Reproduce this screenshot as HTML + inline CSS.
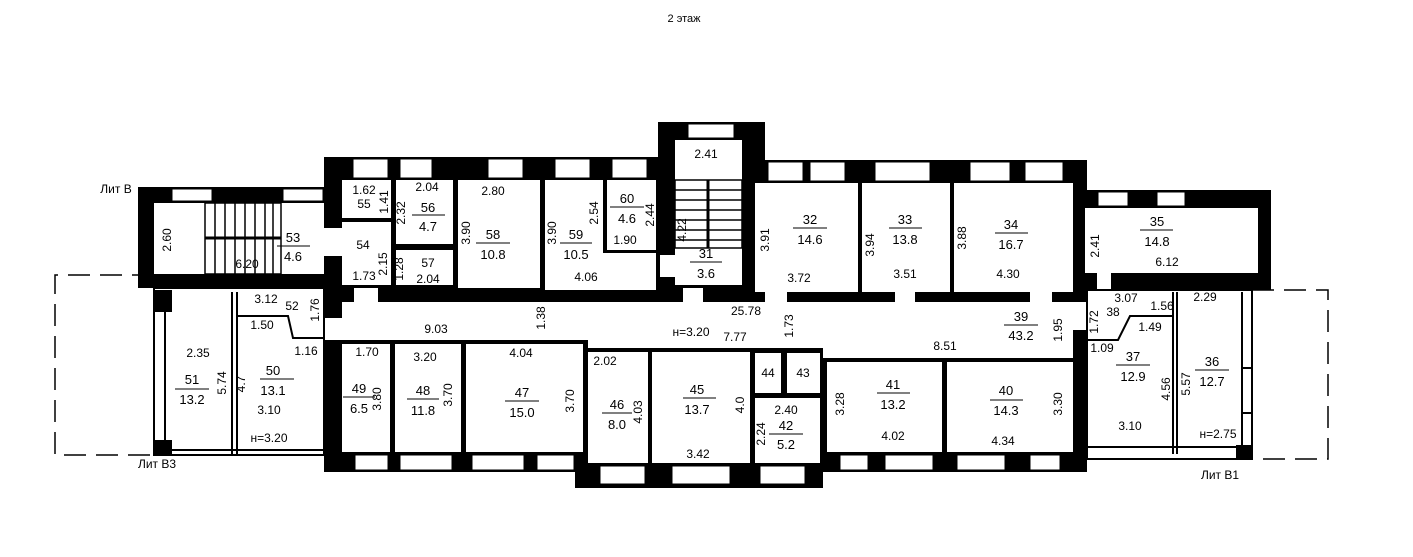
<!DOCTYPE html>
<html><head><meta charset="utf-8"><style>
html,body{margin:0;padding:0;background:#fff;}
svg{display:block}
text{font-family:"Liberation Sans",sans-serif;font-size:13px;fill:#000;text-anchor:middle}
.s{font-size:12px}
</style></head><body>
<svg width="1413" height="557" viewBox="0 0 1413 557" xmlns="http://www.w3.org/2000/svg">
<text x="684" y="22" class="s" style="font-size:11px">2 этаж</text>
<g stroke="#000" stroke-width="1.5" fill="none" stroke-dasharray="22,10">
<polyline points="154,275 55,275 55,455 154,455"/>
<polyline points="1252,290 1328,290 1328,459 1252,459"/>
</g>
<g fill="#000">
<polygon points="324,157 658,157 658,122 765,122 765,160 1087,160 1087,472 823,472 823,488 575,488 575,472 324,472"/>
<rect x="138" y="187" width="188" height="101"/>
<rect x="1073" y="190" width="198" height="100"/>
</g>
<g fill="#fff">
<rect x="154" y="203" width="170" height="71"/>
<rect x="342" y="180" width="49" height="38"/>
<rect x="342" y="222" width="49" height="63"/>
<rect x="396" y="180" width="57" height="64"/>
<rect x="396" y="250" width="57" height="35"/>
<rect x="458" y="180" width="82" height="108"/>
<rect x="545" y="180" width="111" height="110"/>
<rect x="675" y="140" width="67" height="145"/>
<rect x="755" y="183" width="103" height="109"/>
<rect x="862" y="183" width="88" height="109"/>
<rect x="954" y="183" width="119" height="109"/>
<rect x="342" y="302" width="731" height="38"/>
<rect x="588" y="338" width="235" height="10"/>
<rect x="823" y="338" width="250" height="20"/>
<rect x="342" y="344" width="48" height="108"/>
<rect x="395" y="344" width="66" height="108"/>
<rect x="466" y="344" width="117" height="108"/>
<rect x="588" y="352" width="60" height="111"/>
<rect x="652" y="352" width="98" height="111"/>
<rect x="755" y="353" width="26" height="40"/>
<rect x="787" y="353" width="33" height="40"/>
<rect x="755" y="398" width="65" height="65"/>
<rect x="827" y="362" width="115" height="90"/>
<rect x="947" y="362" width="126" height="90"/>
<rect x="1085" y="208" width="173" height="65"/>
<rect x="324" y="228" width="18" height="28"/>
<rect x="324" y="318" width="18" height="22"/>
<rect x="1073" y="302" width="14" height="28"/>
<rect x="354" y="288" width="24" height="14"/>
<rect x="683" y="288" width="20" height="14"/>
<rect x="765" y="292" width="22" height="10"/>
<rect x="895" y="292" width="20" height="10"/>
<rect x="1030" y="292" width="22" height="10"/>
<rect x="1097" y="273" width="14" height="17"/>
<rect x="660" y="255" width="15" height="22"/>
</g>
<rect x="603" y="180" width="4" height="72" fill="#000"/>
<rect x="603" y="250" width="53" height="3" fill="#000"/>
<g stroke="#000" stroke-width="1.5" fill="none">
<rect x="205" y="203" width="76" height="71"/>
<line x1="205" y1="238" x2="281" y2="238" stroke-width="3"/>
<line x1="215" y1="203" x2="215" y2="274"/><line x1="225" y1="203" x2="225" y2="274"/><line x1="235" y1="203" x2="235" y2="274"/><line x1="245" y1="203" x2="245" y2="274"/><line x1="255" y1="203" x2="255" y2="274"/><line x1="265" y1="203" x2="265" y2="274"/><line x1="273" y1="203" x2="273" y2="274"/>
<rect x="675" y="180" width="67" height="68"/>
<line x1="708" y1="180" x2="708" y2="248" stroke-width="3"/>
<line x1="675" y1="190" x2="742" y2="190"/><line x1="675" y1="200" x2="742" y2="200"/><line x1="675" y1="210" x2="742" y2="210"/><line x1="675" y1="220" x2="742" y2="220"/><line x1="675" y1="230" x2="742" y2="230"/><line x1="675" y1="240" x2="742" y2="240"/>
</g>
<g fill="#fff" stroke="#000" stroke-width="1">
<rect x="172" y="189" width="40" height="12"/><rect x="283" y="189" width="40" height="12"/>
<rect x="353" y="159" width="35" height="19"/><rect x="400" y="159" width="32" height="19"/><rect x="488" y="159" width="35" height="19"/><rect x="555" y="159" width="35" height="19"/><rect x="612" y="159" width="35" height="19"/>
<rect x="688" y="124" width="46" height="14"/>
<rect x="768" y="162" width="35" height="19"/><rect x="810" y="162" width="35" height="19"/><rect x="875" y="162" width="55" height="19"/><rect x="970" y="162" width="40" height="19"/><rect x="1025" y="162" width="38" height="19"/>
<rect x="1098" y="192" width="30" height="14"/><rect x="1157" y="192" width="28" height="14"/>
<rect x="355" y="455" width="33" height="15"/><rect x="400" y="455" width="52" height="15"/><rect x="472" y="455" width="52" height="15"/><rect x="537" y="455" width="37" height="15"/>
<rect x="600" y="466" width="45" height="18"/><rect x="672" y="466" width="58" height="18"/><rect x="760" y="466" width="45" height="18"/>
<rect x="840" y="455" width="28" height="15"/><rect x="885" y="455" width="48" height="15"/><rect x="957" y="455" width="48" height="15"/><rect x="1030" y="455" width="30" height="15"/>
</g>
<g stroke="#000" stroke-width="2" fill="none">
<rect x="154" y="288" width="170" height="167"/>
<line x1="165" y1="300" x2="165" y2="445"/>
<line x1="232" y1="292" x2="232" y2="455"/>
<line x1="237" y1="292" x2="237" y2="455"/>
<polyline points="237,316 288,316 293,338 324,338"/>
<line x1="160" y1="450" x2="324" y2="450"/>
</g>
<rect x="154" y="290" width="18" height="22" fill="#000"/><rect x="154" y="440" width="18" height="15" fill="#000"/>
<g stroke="#000" stroke-width="2" fill="none">
<rect x="1087" y="290" width="165" height="169"/>
<line x1="1173" y1="292" x2="1173" y2="454"/><line x1="1177" y1="292" x2="1177" y2="454"/>
<polyline points="1087,340 1118,340 1130,316 1173,316"/>
<line x1="1242" y1="292" x2="1242" y2="454"/>
<line x1="1087" y1="447" x2="1252" y2="447"/>
<rect x="1242" y="368" width="10" height="45"/>
</g>
<rect x="1236" y="445" width="16" height="14" fill="#000"/>
<g stroke="#000" stroke-width="1">
<line x1="277" y1="246" x2="310" y2="246"/><line x1="412" y1="215" x2="445" y2="215"/><line x1="476" y1="243" x2="510" y2="243"/><line x1="560" y1="243" x2="592" y2="243"/><line x1="610" y1="207" x2="644" y2="207"/><line x1="690" y1="262" x2="722" y2="262"/>
<line x1="793" y1="228" x2="827" y2="228"/><line x1="889" y1="228" x2="922" y2="228"/><line x1="995" y1="233" x2="1028" y2="233"/><line x1="1140" y1="230" x2="1173" y2="230"/>
<line x1="1004" y1="325" x2="1038" y2="325"/><line x1="175" y1="389" x2="209" y2="389"/><line x1="260" y1="379" x2="294" y2="379"/><line x1="343" y1="397" x2="375" y2="397"/><line x1="407" y1="399" x2="439" y2="399"/><line x1="505" y1="401" x2="539" y2="401"/><line x1="602" y1="413" x2="632" y2="413"/><line x1="683" y1="398" x2="716" y2="398"/><line x1="769" y1="434" x2="803" y2="434"/><line x1="877" y1="393" x2="910" y2="393"/><line x1="990" y1="400" x2="1023" y2="400"/><line x1="1116" y1="365" x2="1150" y2="365"/><line x1="1195" y1="370" x2="1229" y2="370"/>
</g>
<g>
<text x="116" y="193" class="s">Лит В</text>
<text x="157" y="468" class="s">Лит В3</text>
<text x="1220" y="479" class="s">Лит В1</text>
<text x="293" y="242">53</text><text x="293" y="261">4.6</text><text x="247" y="268" class="s">6.20</text>
<text x="364" y="194" class="s">1.62</text><text x="364" y="208" class="s">55</text>
<text x="427" y="191" class="s">2.04</text><text x="428" y="212">56</text><text x="428" y="231">4.7</text>
<text x="363" y="249" class="s">54</text><text x="364" y="280" class="s">1.73</text>
<text x="428" y="267" class="s">57</text><text x="428" y="283" class="s">2.04</text>
<text x="493" y="195" class="s">2.80</text><text x="493" y="239">58</text><text x="493" y="259">10.8</text>
<text x="576" y="239">59</text><text x="576" y="259">10.5</text><text x="586" y="281" class="s">4.06</text>
<text x="627" y="203">60</text><text x="627" y="223">4.6</text><text x="625" y="244" class="s">1.90</text>
<text x="706" y="158" class="s">2.41</text><text x="706" y="258">31</text><text x="706" y="278">3.6</text>
<text x="810" y="224">32</text><text x="810" y="244">14.6</text><text x="799" y="282" class="s">3.72</text>
<text x="905" y="224">33</text><text x="905" y="244">13.8</text><text x="905" y="278" class="s">3.51</text>
<text x="1011" y="229">34</text><text x="1011" y="249">16.7</text><text x="1008" y="278" class="s">4.30</text>
<text x="1157" y="226">35</text><text x="1157" y="246">14.8</text><text x="1167" y="266" class="s">6.12</text>
<text x="266" y="303" class="s">3.12</text><text x="292" y="310" class="s">52</text>
<text x="262" y="329" class="s">1.50</text><text x="306" y="355" class="s">1.16</text>
<text x="198" y="357" class="s">2.35</text><text x="192" y="384">51</text><text x="192" y="404">13.2</text><text x="273" y="375">50</text><text x="273" y="395">13.1</text>
<text x="269" y="414" class="s">3.10</text><text x="269" y="442" class="s">н=3.20</text>
<text x="436" y="333" class="s">9.03</text><text x="735" y="341" class="s">7.77</text><text x="691" y="336" class="s">н=3.20</text><text x="746" y="315" class="s">25.78</text>
<text x="1021" y="321">39</text><text x="1021" y="340">43.2</text><text x="945" y="350" class="s">8.51</text>
<text x="1126" y="302" class="s">3.07</text><text x="1113" y="316" class="s">38</text><text x="1162" y="310" class="s">1.56</text><text x="1205" y="301" class="s">2.29</text><text x="1150" y="331" class="s">1.49</text><text x="1102" y="352" class="s">1.09</text>
<text x="1133" y="361">37</text><text x="1133" y="381">12.9</text><text x="1130" y="430" class="s">3.10</text>
<text x="1212" y="366">36</text><text x="1212" y="386">12.7</text><text x="1218" y="438" class="s">н=2.75</text>
<text x="367" y="356" class="s">1.70</text><text x="359" y="393">49</text><text x="359" y="413">6.5</text>
<text x="425" y="361" class="s">3.20</text><text x="423" y="395">48</text><text x="423" y="415">11.8</text>
<text x="521" y="357" class="s">4.04</text><text x="522" y="397">47</text><text x="522" y="417">15.0</text>
<text x="605" y="365" class="s">2.02</text><text x="617" y="409">46</text><text x="617" y="429">8.0</text>
<text x="697" y="394">45</text><text x="697" y="414">13.7</text><text x="698" y="458" class="s">3.42</text>
<text x="768" y="377" class="s">44</text><text x="803" y="377" class="s">43</text>
<text x="786" y="414" class="s">2.40</text><text x="786" y="430">42</text><text x="786" y="449">5.2</text>
<text x="893" y="389">41</text><text x="893" y="409">13.2</text><text x="893" y="440" class="s">4.02</text>
<text x="1006" y="395">40</text><text x="1006" y="415">14.3</text><text x="1003" y="445" class="s">4.34</text>
</g>
<g>
<text transform="translate(171,240) rotate(-90)" class="s">2.60</text>
<text transform="translate(388,202) rotate(-90)" class="s">1.41</text>
<text transform="translate(405,213) rotate(-90)" class="s">2.32</text>
<text transform="translate(387,264) rotate(-90)" class="s">2.15</text>
<text transform="translate(403,269) rotate(-90)" class="s">1.28</text>
<text transform="translate(470,233) rotate(-90)" class="s">3.90</text>
<text transform="translate(556,233) rotate(-90)" class="s">3.90</text>
<text transform="translate(598,213) rotate(-90)" class="s">2.54</text>
<text transform="translate(654,215) rotate(-90)" class="s">2.44</text>
<text transform="translate(686,230) rotate(-90)" class="s">4.22</text>
<text transform="translate(769,240) rotate(-90)" class="s">3.91</text>
<text transform="translate(874,245) rotate(-90)" class="s">3.94</text>
<text transform="translate(966,238) rotate(-90)" class="s">3.88</text>
<text transform="translate(1099,246) rotate(-90)" class="s">2.41</text>
<text transform="translate(319,310) rotate(-90)" class="s">1.76</text>
<text transform="translate(545,318) rotate(-90)" class="s">1.38</text>
<text transform="translate(793,326) rotate(-90)" class="s">1.73</text>
<text transform="translate(1062,330) rotate(-90)" class="s">1.95</text>
<text transform="translate(1098,322) rotate(-90)" class="s">1.72</text>
<text transform="translate(226,383) rotate(-90)" class="s">5.74</text>
<text transform="translate(245,384) rotate(-90)" class="s">4.7</text>
<text transform="translate(381,399) rotate(-90)" class="s">3.80</text>
<text transform="translate(452,395) rotate(-90)" class="s">3.70</text>
<text transform="translate(574,401) rotate(-90)" class="s">3.70</text>
<text transform="translate(642,412) rotate(-90)" class="s">4.03</text>
<text transform="translate(744,405) rotate(-90)" class="s">4.0</text>
<text transform="translate(765,434) rotate(-90)" class="s">2.24</text>
<text transform="translate(844,404) rotate(-90)" class="s">3.28</text>
<text transform="translate(1062,404) rotate(-90)" class="s">3.30</text>
<text transform="translate(1170,389) rotate(-90)" class="s">4.56</text>
<text transform="translate(1190,384) rotate(-90)" class="s">5.57</text>
</g>
</svg>
</body></html>
